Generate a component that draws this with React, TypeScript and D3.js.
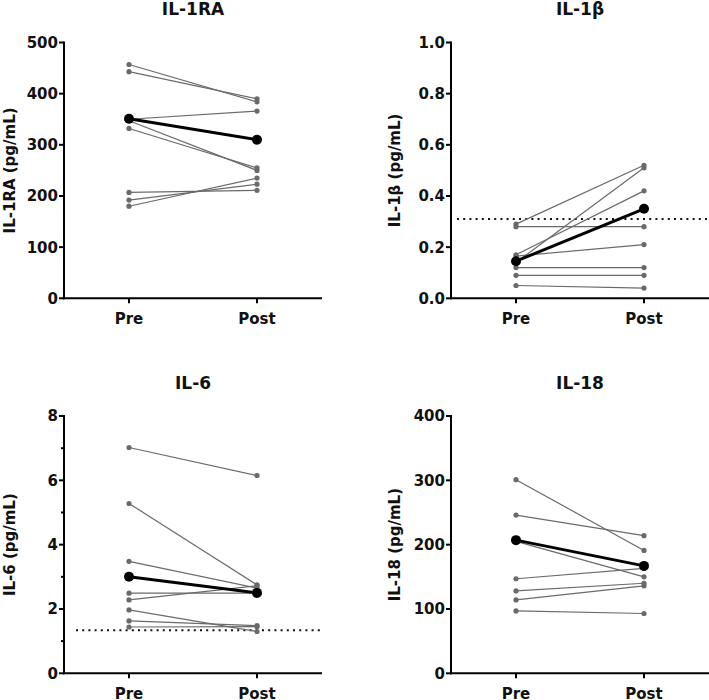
import React from "react";
import * as d3 from "d3";

const categories = ["Pre", "Post"];

const il1raPre = [457, 443, 350, 347, 332, 207, 192, 180];
const il1raPost = [384, 390, 366, 250, 255, 211, 223, 235];
const il1raMean = [351, 310];

const il1bPre = [0.29, 0.28, 0.17, 0.14, 0.165, 0.12, 0.09, 0.05];
const il1bPost = [0.52, 0.28, 0.42, 0.51, 0.21, 0.12, 0.09, 0.04];
const il1bMean = [0.145, 0.35];
const il1bLimit = 0.31;

const il6Pre = [7.02, 5.28, 3.48, 2.49, 2.28, 1.97, 1.63, 1.44];
const il6Post = [6.15, 2.75, 2.65, 2.49, 2.72, 1.3, 1.48, 1.45];
const il6Mean = [3.0, 2.5];
const il6Limit = 1.34;

const il18Pre = [301, 246, 205, 147, 128, 114, 97];
const il18Post = [191, 214, 150, 163, 140, 136, 93];
const il18Mean = [207, 167];

const FONT = "'DejaVu Sans', sans-serif";

type PanelProps = {
  title: string;
  yLabel: string;
  pre: number[];
  post: number[];
  mean: number[];
  yMax: number;
  step: number;
  minorStep?: number;
  fmt: (v: number) => string;
  limit?: number;
  limitStart?: number;
  x0: number;
  yTop: number;
  yBot: number;
  labelX: number;
};

function Panel(p: PanelProps) {
  const x1 = p.x0 + 258;
  const y = d3.scaleLinear().domain([0, p.yMax]).range([p.yBot, p.yTop]);
  const x = d3.scalePoint<string>().domain(categories).range([p.x0 + 65, p.x0 + 193]);
  const majors = d3.range(0, p.yMax + p.step / 2, p.step);
  const minors = p.minorStep
    ? d3.range(0, p.yMax + 1e-9, p.minorStep).filter((v) => Math.abs(v / p.step - Math.round(v / p.step)) > 1e-6)
    : [];
  const pairs = p.pre.map((v, i) => [v, p.post[i]]);
  const line = d3
    .line<number>()
    .x((_, i) => x(categories[i]) as number)
    .y((d) => y(d));
  const gray = "#6a6a6a";
  const cx = (p.x0 + x1) / 2;
  const titleY = p.yTop - 27.5;
  return (
    <g>
      <text x={cx} y={titleY} textAnchor="middle" fontFamily={FONT} fontWeight="bold" fontSize={17} fill="#111">
        {p.title}
      </text>
      <text
        transform={`translate(${p.labelX},${(p.yTop + p.yBot) / 2}) rotate(-90)`}
        textAnchor="middle"
        fontFamily={FONT}
        fontWeight="bold"
        fontSize={15}
        fill="#111"
      >
        {p.yLabel}
      </text>
      {p.limit !== undefined && (
        <line
          x1={p.limitStart}
          x2={x1}
          y1={y(p.limit)}
          y2={y(p.limit)}
          stroke="#111"
          strokeWidth={2}
          strokeDasharray="2,4.2"
        />
      )}
      {pairs.map((d, i) => (
        <g key={i}>
          <path d={line(d) as string} fill="none" stroke={gray} strokeWidth={1.2} />
          {d.map((v, j) => (
            <circle key={j} cx={x(categories[j]) as number} cy={y(v)} r={2.6} fill={gray} />
          ))}
        </g>
      ))}
      <path d={line(p.mean) as string} fill="none" stroke="#000" strokeWidth={3} />
      {p.mean.map((v, j) => (
        <circle key={j} cx={x(categories[j]) as number} cy={y(v)} r={5} fill="#000" />
      ))}
      <line x1={p.x0} x2={p.x0} y1={p.yTop - 1} y2={p.yBot + 1} stroke="#000" strokeWidth={2} />
      <line x1={p.x0 - 1} x2={x1} y1={p.yBot} y2={p.yBot} stroke="#000" strokeWidth={2} />
      {majors.map((v) => (
        <g key={"M" + v}>
          <line x1={p.x0 - 5} x2={p.x0} y1={y(v)} y2={y(v)} stroke="#000" strokeWidth={2} />
          <text
            x={p.x0 - 6}
            y={y(v)}
            dy="0.36em"
            textAnchor="end"
            fontFamily={FONT}
            fontWeight="bold"
            fontSize={15}
            fill="#111"
          >
            {p.fmt(v)}
          </text>
        </g>
      ))}
      {minors.map((v) => (
        <line key={"m" + v} x1={p.x0 - 3} x2={p.x0} y1={y(v)} y2={y(v)} stroke="#000" strokeWidth={2} />
      ))}
      {categories.map((c) => (
        <g key={c}>
          <line x1={x(c) as number} x2={x(c) as number} y1={p.yBot} y2={p.yBot + 5} stroke="#000" strokeWidth={2} />
          <text
            x={x(c) as number}
            y={p.yBot + 25.5}
            textAnchor="middle"
            fontFamily={FONT}
            fontWeight="bold"
            fontSize={15}
            fill="#111"
          >
            {c}
          </text>
        </g>
      ))}
    </g>
  );
}

export default function App() {
  const intFmt = d3.format("d");
  const oneDec = d3.format(".1f");
  return (
    <svg
      width={709}
      height={700}
      style={{ position: "absolute", left: 0, top: 0, background: "#fff" }}
    >
      <rect width={709} height={700} fill="#fff" />
      <Panel
        title="IL-1RA"
        yLabel="IL-1RA (pg/mL)"
        pre={il1raPre}
        post={il1raPost}
        mean={il1raMean}
        yMax={500}
        step={100}
        fmt={intFmt}
        x0={64}
        yTop={42.5}
        yBot={298.3}
        labelX={15}
      />
      <Panel
        title="IL-1β"
        yLabel="IL-1β (pg/mL)"
        pre={il1bPre}
        post={il1bPost}
        mean={il1bMean}
        yMax={1}
        step={0.2}
        fmt={oneDec}
        limit={il1bLimit}
        limitStart={457}
        x0={451}
        yTop={42.5}
        yBot={298.3}
        labelX={400}
      />
      <Panel
        title="IL-6"
        yLabel="IL-6 (pg/mL)"
        pre={il6Pre}
        post={il6Post}
        mean={il6Mean}
        yMax={8}
        step={2}
        minorStep={1}
        fmt={intFmt}
        limit={il6Limit}
        limitStart={76}
        x0={64}
        yTop={416}
        yBot={673.3}
        labelX={15}
      />
      <Panel
        title="IL-18"
        yLabel="IL-18 (pg/mL)"
        pre={il18Pre}
        post={il18Post}
        mean={il18Mean}
        yMax={400}
        step={100}
        fmt={intFmt}
        x0={451}
        yTop={416}
        yBot={673.3}
        labelX={400}
      />
    </svg>
  );
}
